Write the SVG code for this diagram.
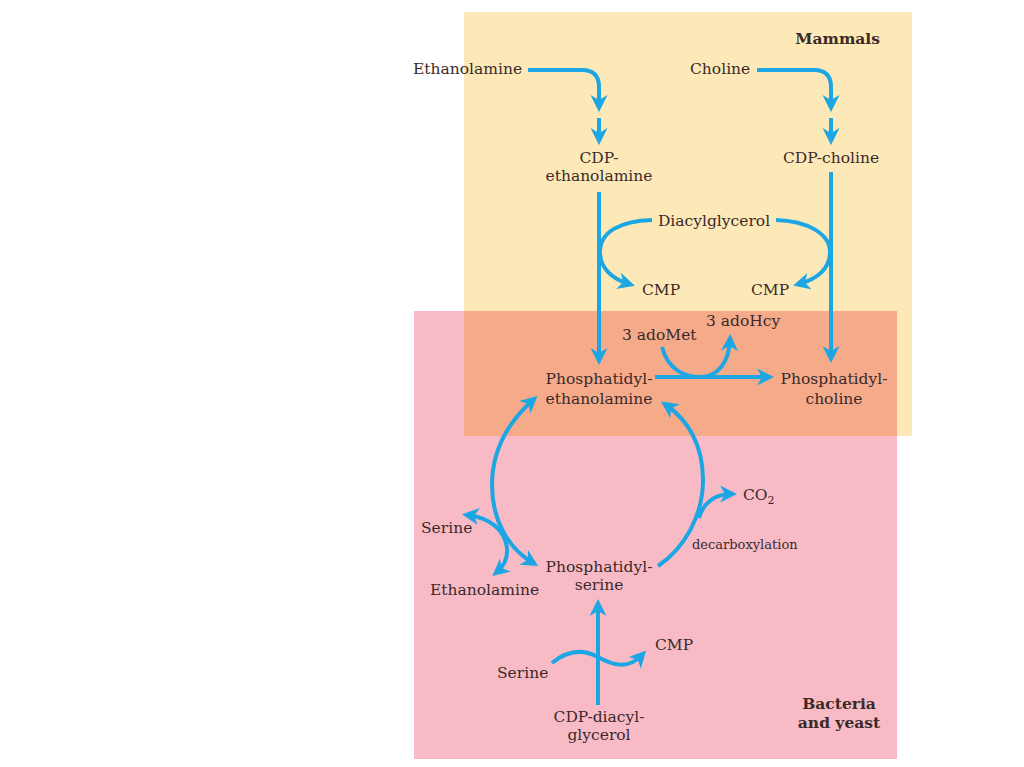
<svg xmlns="http://www.w3.org/2000/svg" width="1024" height="767" viewBox="0 0 1024 767">
<style>
text{font-family:"DejaVu Serif","Liberation Serif",serif;font-size:15.5px;fill:#3a2a2a}
.b{font-weight:bold}
.s{font-size:13px}
.m{text-anchor:middle}
.c{fill:none;stroke:#1ca6e3;stroke-width:4}
</style>
<defs>
<marker id="ah" viewBox="0 0 14 14" refX="9" refY="7" markerWidth="17" markerHeight="17" markerUnits="userSpaceOnUse" orient="auto-start-reverse">
<path d="M0,0 L14,7 L0,14 L4,7 Z" fill="#1ca6e3"/>
</marker>
</defs>
<rect width="1024" height="767" fill="#ffffff"/>
<g id="regions">
<rect x="464" y="12" width="448" height="424" fill="#fde9b8"/>
<rect x="414" y="311" width="483" height="448" fill="#f8bbc6"/>
<rect x="464" y="311" width="433" height="125" fill="#f5ab8a"/>
</g>
<g id="connectors" class="c">
<path class="c" d="M528,70 H582 Q599,70 599,87 V106" marker-end="url(#ah)"/>
<path class="c" d="M599,118 V139" marker-end="url(#ah)"/>
<path class="c" d="M757,70 H814 Q831,70 831,87 V106" marker-end="url(#ah)"/>
<path class="c" d="M831,118 V139" marker-end="url(#ah)"/>
<path class="c" d="M599,192 V359" marker-end="url(#ah)"/>
<path class="c" d="M831,172 V357" marker-end="url(#ah)"/>
<path class="c" d="M652,220 C620,221 600,232 600,252 C600,268 612,279 629,284" marker-end="url(#ah)"/>
<path class="c" d="M776,220 C808,221 830,234 830,252 C830,268 818,279 799,284" marker-end="url(#ah)"/>
<path class="c" d="M662,347 C668,370 685,377 700,377 C718,377 729,362 730,340" marker-end="url(#ah)"/>
<path class="c" d="M655,377 H768" marker-end="url(#ah)"/>
<path class="c" d="M533,400 C505,425 492,455 492,485 C492,520 508,548 533,563" marker-start="url(#ah)" marker-end="url(#ah)"/>
<path class="c" d="M658,566 C685,548 703,515 703,480 C703,445 688,420 666,405" marker-end="url(#ah)"/>
<path class="c" d="M699,518 C703,503 715,494 731,494" marker-end="url(#ah)"/>
<path class="c" d="M468,515 C490,518 505,530 507,548 C508,560 503,567 497,572" marker-start="url(#ah)" marker-end="url(#ah)"/>
<path class="c" d="M598,705 V605" marker-end="url(#ah)"/>
<path class="c" d="M552,663 C570,648 585,650 598,657 C612,665 628,670 642,655" marker-end="url(#ah)"/>
</g>
<g id="mammals"><text class="b" x="880" y="44" text-anchor="end">Mammals</text></g>
<g id="ethanolamine1"><text x="413" y="74">Ethanolamine</text></g>
<g id="choline"><text x="690" y="74">Choline</text></g>
<g id="cdp-ethanolamine"><text class="m" x="599" y="163">CDP-</text><text class="m" x="599" y="181">ethanolamine</text></g>
<g id="cdp-choline"><text class="m" x="831" y="163">CDP-choline</text></g>
<g id="diacylglycerol"><text class="m" x="714" y="226">Diacylglycerol</text></g>
<g id="cmp1"><text x="642" y="295">CMP</text></g>
<g id="cmp2"><text x="751" y="295">CMP</text></g>
<g id="adohcy"><text x="706" y="326">3 adoHcy</text></g>
<g id="adomet"><text x="622" y="340">3 adoMet</text></g>
<g id="pe"><text class="m" x="599" y="384">Phosphatidyl-</text><text class="m" x="599" y="404">ethanolamine</text></g>
<g id="pc"><text class="m" x="834" y="384">Phosphatidyl-</text><text class="m" x="834" y="404">choline</text></g>
<g id="co2"><text x="743" y="500">CO<tspan font-size="11" dy="4">2</tspan></text></g>
<g id="decarboxylation"><text class="s" x="692" y="549">decarboxylation</text></g>
<g id="serine1"><text x="421" y="533">Serine</text></g>
<g id="ethanolamine2"><text x="430" y="595">Ethanolamine</text></g>
<g id="ps"><text class="m" x="599" y="572">Phosphatidyl-</text><text class="m" x="599" y="590">serine</text></g>
<g id="cmp3"><text x="655" y="650">CMP</text></g>
<g id="serine2"><text x="497" y="678">Serine</text></g>
<g id="cdp-dag"><text class="m" x="599" y="722">CDP-diacyl-</text><text class="m" x="599" y="740">glycerol</text></g>
<g id="bacteria"><text class="b m" x="839" y="709">Bacteria</text><text class="b m" x="839" y="728">and yeast</text></g>
</svg>
